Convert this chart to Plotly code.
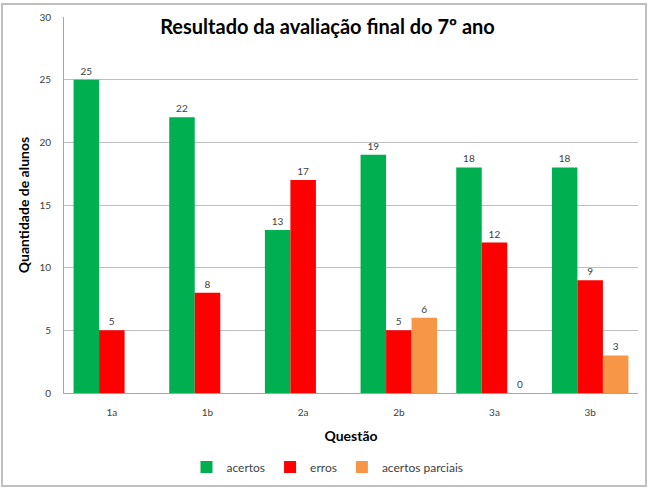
import plotly.graph_objects as go

categories = ["1a", "1b", "2a", "2b", "3a", "3b"]
acertos = [25, 22, 13, 19, 18, 18]
erros = [5, 8, 17, 5, 12, 9]
parciais = [None, None, None, 6, 0, 3]

font_family = "Lato, 'Open Sans', sans-serif"

fig = go.Figure()
series = [
    ("acertos", acertos, "#00B050"),
    ("erros", erros, "#FF0000"),
    ("acertos parciais", parciais, "#F79646"),
]
for name, vals, color in series:
    fig.add_trace(go.Bar(
        x=categories, y=vals, name=name,
        marker=dict(color=color, line=dict(width=0)),
        text=[("" if v is None else str(v)) for v in vals],
        textposition="outside",
        textfont=dict(size=10, color="#404040", family=font_family),
        cliponaxis=False,
    ))

fig.update_layout(
    width=655, height=491,
    margin=dict(l=64, r=17, t=17, b=98, autoexpand=False),
    paper_bgcolor="white", plot_bgcolor="white",
    barmode="group", bargap=0.2, bargroupgap=0,
    font=dict(family=font_family, color="#404040"),
    title=dict(
        text="<b>Resultado da avaliação final do 7º ano</b>",
        x=0.5, xanchor="center", y=1 - 27 / 491, yanchor="middle",
        font=dict(size=20, color="black", family=font_family),
    ),
    xaxis=dict(
        showline=True, linecolor="#A6A6A6", linewidth=1,
        ticks="outside", ticklen=10, tickcolor="rgba(0,0,0,0)",
        tickfont=dict(size=10, color="#404040"),
        title=dict(text="<b>Questão</b>", font=dict(size=14, color="black"), standoff=14),
    ),
    yaxis=dict(
        range=[0, 30], dtick=5, showgrid=True, gridcolor="#BFBFBF", gridwidth=1,
        showline=True, linecolor="#A6A6A6", linewidth=1, zeroline=False,
        ticks="outside", ticklen=10, tickcolor="rgba(0,0,0,0)",
        tickfont=dict(size=10, color="#404040"),
        title=dict(text="<b>Quantidade de alunos</b>", font=dict(size=14, color="black"), standoff=6),
    ),
    legend=dict(
        orientation="h", x=0.5, xanchor="center", xref="container",
        y=1 - 467 / 491, yanchor="middle", yref="container",
        font=dict(size=12, color="#404040"), itemwidth=30,
        bgcolor="rgba(0,0,0,0)", tracegroupgap=0,
    ),
    shapes=[dict(
        type="rect", xref="paper", yref="paper",
        x0=-62 / 574, x1=1 + 8 / 574, y0=-(486 - 393) / 376, y1=1 + 13 / 376,
        line=dict(color="#BFBFBF", width=2), fillcolor="rgba(0,0,0,0)", layer="below",
    )],
)

fig.write_html("out.html")
